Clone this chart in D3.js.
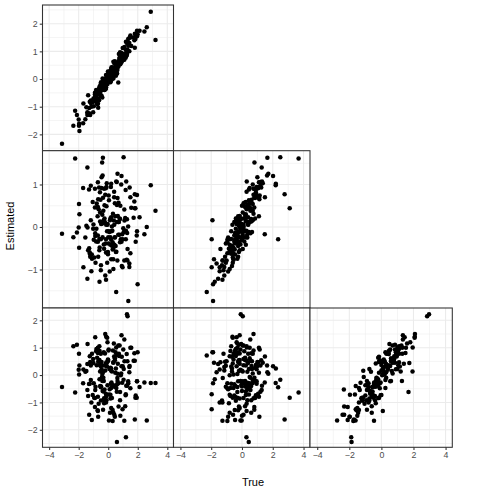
<!DOCTYPE html>
<html><head><meta charset="utf-8">
<script src="https://cdn.jsdelivr.net/npm/d3@7"></script>
<style>body{margin:0;background:#fff}svg{display:block}</style>
</head><body>
<svg id="chart" width="490" height="490"></svg>
<script>
// ---- data: one entry per simulated parameter set ----
const trueA=[
-3.13,-2.36,-2.24,-2.12,-2.00,-1.98,-1.95,-1.97,-1.70,-1.68,
3.20,2.88,2.61,2.45,2.12,1.95,1.99,1.80,1.84,1.72,
1.86,1.77,1.50,-0.36,1.04,-0.41,-1.41,-0.38,0.63,0.54,
1.36,0.54,-0.59,-1.14,-1.41,0.34,0.97,1.43,1.19,-0.30,
1.27,1.31,0.59,1.20,-0.14,-0.07,1.09,-0.60,-0.70,-0.80,
0.77,1.56,0.90,0.20,-0.50,0.40,-0.68,0.05,0.41,-1.29,
-1.11,1.09,-0.15,0.20,0.30,-0.70,0.20,-0.40,0.80,-0.25,
0.15,-0.55,0.70,-0.90,0.45,-1.00,0.25,-0.45,0.90,-0.20,
-1.18,-0.70,-0.56,-0.16,0.03,1.22,1.45,0.63,-1.36,-1.25,
-0.68,-0.86,-0.50,-0.49,1.30,1.50,1.43,1.80,1.93,1.95,
-0.12,0.45,-0.78,0.92,-0.33,0.10,-1.05,0.68,-0.25,0.32,
-0.60,1.15,-0.02,-1.30,0.55,-0.45,0.22,-0.88,0.80,-0.18,
0.05,-0.95,1.02,-0.38,0.38,-1.18,0.62,-0.65,0.15,1.28,
-0.52,0.28,-0.08,0.95,-1.48,0.48,-0.28,0.72,-0.72,0.00,
1.10,-0.15,-0.82,0.35,-0.42,0.60,-1.10,0.18,-0.30,0.85,
-0.62,0.42,-0.05,1.35,-0.98,0.12,-0.22,0.75,-1.55,0.25,
-0.35,0.52,-0.70,1.05,-0.10,-1.22,0.30,-0.48,0.88,-0.02,
-0.88,0.65,-0.20,0.40,-0.58,1.18,-0.05,-1.40,0.20,0.58,
-0.40,0.08,-0.75,0.98,-0.28,0.35,-1.02,0.70,-0.15,0.45,
-0.55,0.15,-0.90,1.25,-0.32,0.50,-0.12,-1.25,0.82,0.02];
const estA=[
-2.34,-1.69,-1.15,-1.30,-1.46,-1.69,-1.88,-1.62,-1.60,-0.88,
1.41,2.43,1.87,1.72,1.74,1.55,1.62,1.13,1.45,1.50,
1.60,1.40,1.57,-0.30,0.90,-0.35,-1.20,-0.40,0.60,0.50,
1.20,0.45,-0.55,-1.00,-1.30,0.35,0.90,1.30,1.05,-0.20,
0.88,1.30,0.37,1.35,-0.18,0.15,0.70,-0.43,-0.75,-0.59,
0.78,1.19,0.94,0.06,-0.17,0.22,-0.56,0.24,0.16,-1.05,
-0.82,0.83,0.15,-0.05,0.35,-0.88,0.35,-0.40,0.97,-0.35,
-0.12,-0.35,0.47,-0.50,0.32,-0.70,0.00,-0.28,0.75,0.01,
-0.87,-0.72,-0.25,-0.32,0.05,0.82,1.50,0.50,-0.59,-1.25,
-1.04,-0.68,-0.63,-0.12,1.07,1.50,1.00,1.64,1.56,1.74,
0.03,0.16,-0.56,0.63,-0.07,-0.03,-0.84,-0.13,-0.40,0.35,
-0.30,0.83,0.27,-1.28,0.57,-0.60,0.43,-0.80,0.90,-0.37,
-0.10,-0.75,0.70,0.02,0.22,-0.78,0.33,-0.46,-0.05,1.28,
-0.42,0.09,0.02,0.76,-1.02,0.20,-0.21,0.90,-0.90,0.05,
1.16,-0.14,-0.40,0.02,-0.33,0.20,-0.80,0.17,-0.08,0.63,
-0.77,0.55,-0.18,1.45,-0.98,0.28,-0.35,0.72,-1.45,0.34,
-0.34,0.12,-0.41,0.80,0.13,-1.30,0.42,-0.25,0.60,0.15,
-0.62,0.43,-0.05,0.15,-0.37,0.77,0.07,-1.23,0.34,0.47,
-0.67,0.25,-0.90,1.12,-0.23,0.62,-1.20,0.64,-0.30,0.64,
-0.52,-0.01,-0.56,0.93,-0.10,0.37,-0.21,-0.82,0.53,0.18];
const trueB=[
-0.30,0.30,3.68,-0.20,-0.10,0.70,0.25,-0.55,0.50,-1.45,
0.70,2.19,-0.10,1.48,0.40,0.95,-1.88,2.77,3.10,0.30,
-0.50,0.60,1.10,1.65,2.49,0.81,1.28,1.63,1.71,0.31,
-1.88,-2.29,-1.77,-1.45,-1.55,-1.82,-1.97,-1.65,-1.97,-1.92,
-0.08,0.05,0.44,0.29,-0.62,-0.60,0.54,-0.70,-0.30,-0.40,
0.10,0.50,2.02,2.20,2.35,1.49,1.13,-0.02,0.10,-0.58,
-0.45,-1.27,-1.27,-0.15,-0.47,0.30,0.00,0.20,-0.30,0.35,
-0.80,0.60,-0.20,0.80,-0.90,0.40,-0.65,1.00,-0.15,0.75,
1.20,1.10,0.90,1.05,1.15,1.30,1.00,0.85,-0.75,-0.80,
-1.10,-1.05,-1.20,-1.30,-1.00,-0.95,-1.15,0.55,-0.30,-0.25,
0.35,-0.22,0.10,-0.65,0.55,-0.90,0.25,0.05,-0.40,0.75,
-0.15,0.20,-0.55,0.45,-0.75,0.95,0.15,-0.35,0.60,-1.05,
0.45,-0.60,-0.10,0.00,-0.30,0.70,-1.25,0.30,0.85,-0.45,
0.62,-0.05,-0.70,0.35,-0.20,1.10,-0.85,0.40,-0.25,0.20,
0.65,-0.45,0.15,-1.40,0.50,-0.50,-0.30,0.95,-0.10,-0.80,
1.25,0.25,-0.35,0.05,-0.95,0.60,-0.15,-0.40,0.35,0.10,
0.80,-0.65,-0.50,0.45,1.35,-0.25,-0.95,0.00,0.70,-0.20,
0.55,-0.15,-1.15,0.30,-0.75,0.90,0.40,-0.05,-0.55,1.20,
-0.30,0.65,0.20,-0.35,0.75,-0.80,0.10,0.15,-0.60,0.50,
0.05,-0.15,0.85,-0.55,0.25,-0.25,1.05,-0.70,0.00,-0.45];
const estB=[
-0.16,-0.24,1.61,-0.13,-0.01,0.54,0.30,-0.49,0.92,-0.95,
0.38,0.98,0.00,-0.17,0.23,0.75,-1.35,0.77,0.44,0.22,
-0.35,0.60,0.70,1.63,1.64,1.52,1.40,1.21,1.25,1.07,
-1.74,-1.53,-1.29,-1.04,-1.22,-0.76,-0.95,-0.86,-0.29,0.16,
0.18,-0.52,0.52,-0.09,0.05,-0.84,0.41,-0.28,-0.35,-0.04,
0.20,0.45,1.20,1.02,-0.29,0.70,0.65,-0.10,0.05,-0.50,
-0.65,-0.79,-1.24,0.23,-0.53,0.47,-0.30,0.29,-0.36,0.51,
-0.42,0.13,0.12,0.46,-0.25,0.06,-0.44,1.17,-0.35,0.76,
0.97,1.05,0.82,0.91,0.74,1.07,0.93,0.68,-0.55,-0.60,
-0.70,-0.84,-1.02,-0.90,-0.79,-0.62,-0.94,0.44,-0.20,-0.10,
0.49,-0.24,0.55,-0.92,0.38,-1.05,0.59,-0.18,0.20,0.31,
-0.55,0.21,-0.64,0.88,-0.58,0.92,-0.10,-0.21,0.19,-0.39,
0.63,-0.72,-0.03,-0.24,0.15,0.16,-0.79,0.42,0.20,-0.14,
0.64,-0.09,-0.10,-0.17,0.03,0.25,-0.51,0.12,0.25,-0.24,
0.15,-0.29,-0.34,-0.52,0.12,0.12,-0.75,0.94,-0.41,-0.29,
0.93,-0.42,0.07,0.01,-0.30,0.16,0.11,-0.18,-0.25,0.01,
0.69,-0.59,-0.20,-0.12,1.03,-0.70,-0.36,0.07,1.00,-0.59,
-0.15,0.26,-1.14,0.83,-0.48,0.87,0.05,-0.01,-0.76,1.06,
0.08,-0.12,0.47,-0.29,0.90,-0.99,-0.04,0.57,-0.60,0.56,
0.34,-0.24,0.90,-0.77,0.13,-0.45,0.94,-0.63,0.50,-0.39];
const trueC=[
-0.55,1.10,-0.70,0.85,0.40,1.10,0.50,0.20,-0.45,0.10,
-0.35,-0.20,-2.76,-0.45,-0.80,-0.30,1.05,-1.71,-1.20,0.60,
-1.00,0.95,1.30,0.20,-0.30,-0.30,-0.90,0.40,0.10,1.95,
-0.40,0.90,-0.20,-1.40,0.30,0.70,-1.60,0.30,-0.55,0.90,
2.97,2.85,-1.86,-1.88,2.08,2.07,1.34,1.20,1.00,1.10,
0.69,1.53,0.40,0.10,-0.55,0.95,-1.98,-1.61,-2.42,-2.32,
-2.10,-0.46,-0.80,-1.50,-1.40,0.09,-1.13,1.28,1.69,-2.34,
-1.96,-1.60,-2.32,-2.10,-1.98,1.74,1.94,-0.16,1.34,2.09,
0.30,-0.50,0.00,-0.70,0.55,-0.20,0.35,-0.90,-0.40,0.80,
0.20,-0.35,0.45,-0.75,0.60,-0.10,0.15,0.75,-1.15,-0.35,
-0.40,0.65,1.05,-0.15,0.30,-0.85,0.00,1.25,-1.20,0.50,
0.70,-0.60,0.15,-0.25,-1.40,0.90,-0.05,1.45,-0.95,0.40,
-1.65,-0.50,0.85,-0.70,1.60,0.25,-0.30,-1.05,0.10,-0.45,
0.55,-0.90,1.15,-1.30,0.65,-0.15,-0.35,0.35,-1.55,0.75,
0.20,-0.60,0.45,1.10,-1.10,-0.25,1.30,-0.45,0.60,0.05,
-0.10,-0.55,1.80,0.55,-0.80,-1.45,0.30,0.95,-0.65,-0.20,
-0.90,0.40,1.50,-0.75,0.85,0.05,-1.75,-0.45,0.70,-0.05,
-1.35,1.40,0.00,-0.40,0.95,-0.05,-1.00,0.50,0.25,-0.65,
0.15,1.00,-0.20,0.30,-1.25,-0.60,0.80,-0.10,-0.35,0.60,
1.20,-0.75,-0.15,0.45,-0.55,0.25,0.70,-0.30,-1.50,0.90];
const estC=[
-0.44,1.05,-0.64,1.11,0.19,0.78,0.35,0.02,-0.30,0.20,
-0.29,-0.29,-1.66,-0.27,-0.44,-0.23,0.83,-1.62,-0.83,0.52,
-0.75,0.80,1.00,0.10,-0.17,-0.10,-0.55,0.35,0.05,1.01,
-0.30,0.71,-0.15,-1.00,0.40,0.45,-1.25,0.10,-0.70,0.83,
2.22,2.15,-2.45,-2.27,1.40,1.36,1.30,1.05,1.00,0.95,
1.08,1.00,0.32,0.24,-0.45,0.68,-1.52,-1.66,-1.45,-1.45,
-1.64,-1.67,-1.00,-1.20,-1.28,-1.31,0.16,-0.22,-0.62,-0.53,
-0.72,-0.40,-1.15,-1.17,-1.52,0.44,0.13,0.48,1.45,1.50,
0.35,-0.79,0.37,-0.68,0.93,-0.39,0.33,-0.22,-0.77,0.69,
0.49,-0.43,0.78,-0.93,0.50,-0.48,0.29,0.52,-0.83,-0.23,
-0.92,0.54,0.36,0.67,-0.10,-0.52,-0.73,1.08,-0.94,0.90,
0.55,-1.14,0.57,-0.33,-0.47,0.21,-0.27,1.38,-0.92,0.34,
-0.71,-0.83,0.93,-0.58,1.15,-0.18,-0.11,-1.05,0.27,-0.39,
0.33,-0.36,0.31,-0.28,0.15,0.08,-1.03,0.78,-1.29,0.55,
0.50,-0.79,0.87,0.47,-0.07,-0.34,0.78,-0.32,-0.22,-0.01,
0.54,-0.43,1.20,-0.23,-0.30,-1.38,0.79,0.70,0.12,-0.84,
-1.27,0.24,0.81,0.22,0.45,0.48,-1.68,-0.42,0.06,0.50,
-0.55,0.41,0.17,-0.38,0.88,-0.74,-0.37,1.13,-0.47,-0.61,
0.04,0.22,0.63,0.32,-0.85,-1.38,0.59,-0.30,0.42,0.61,
0.13,-0.86,-0.84,0.77,-0.60,0.83,0.47,-0.32,-1.49,0.90];

const xTickValues=[-4,-2,0,2,4];
const yTickValues=[[-2,-1,0,1,2],[-1,0,1],[-2,-1,0,1,2]];
const xLabel="True", yLabel="Estimated";

// ---- layout ----
const xDomain=[-4.45,4.42];
const yDomains=[[-2.59,2.675],[-1.906,1.795],[-2.64,2.45]];
const colPx=[[42.5,173.5],[173.5,310],[310,452.3]];
const rowPx=[[5,150.7],[150.7,308],[308,447.3]];
const trueArr=[trueA,trueB,trueC], estArr=[estA,estB,estC];
const font='"Liberation Sans", Arial, Helvetica, sans-serif';
const fmt=d3.format("d");

const svg=d3.select("#chart");
svg.append("rect").attr("width",490).attr("height",490).attr("fill","#fff");

function minorOf(ticks,dom){
  const step=ticks[1]-ticks[0];
  const out=[];
  for(let v=ticks[0]-step/2; v<=ticks[ticks.length-1]+step/2+1e-9; v+=step){
    if(v>=dom[0]&&v<=dom[1]) out.push(v);
  }
  return out;
}

const xScales=colPx.map(p=>d3.scaleLinear().domain(xDomain).range(p));
const yScales=rowPx.map((p,i)=>d3.scaleLinear().domain(yDomains[i]).range([p[1],p[0]]));

const defs=svg.append("defs");
for(let r=0;r<3;r++){
  for(let c=0;c<=r;c++){
    const xs=xScales[c], ys=yScales[r];
    const [x0,x1]=colPx[c],[y0,y1]=rowPx[r];
    const g=svg.append("g");
    const cid=`clip${r}${c}`;
    defs.append("clipPath").attr("id",cid).append("rect")
      .attr("x",x0).attr("y",y0).attr("width",x1-x0).attr("height",y1-y0);
    g.append("rect").attr("x",x0).attr("y",y0).attr("width",x1-x0).attr("height",y1-y0).attr("fill","#fff");
    const gg=g.append("g").attr("clip-path",`url(#${cid})`);
    minorOf(xTickValues,xDomain).forEach(v=>gg.append("line")
      .attr("x1",xs(v)).attr("x2",xs(v)).attr("y1",y0).attr("y2",y1)
      .attr("stroke","#EBEBEB").attr("stroke-width",0.55));
    minorOf(yTickValues[r],yDomains[r]).forEach(v=>gg.append("line")
      .attr("y1",ys(v)).attr("y2",ys(v)).attr("x1",x0).attr("x2",x1)
      .attr("stroke","#EBEBEB").attr("stroke-width",0.55));
    xTickValues.forEach(v=>gg.append("line")
      .attr("x1",xs(v)).attr("x2",xs(v)).attr("y1",y0).attr("y2",y1)
      .attr("stroke","#EBEBEB").attr("stroke-width",1.07));
    yTickValues[r].forEach(v=>gg.append("line")
      .attr("y1",ys(v)).attr("y2",ys(v)).attr("x1",x0).attr("x2",x1)
      .attr("stroke","#EBEBEB").attr("stroke-width",1.07));
    const tx=trueArr[c], ey=estArr[r];
    gg.selectAll("circle").data(d3.range(tx.length)).join("circle")
      .attr("cx",i=>xs(tx[i])).attr("cy",i=>ys(ey[i])).attr("r",2.25).attr("fill","#000");
    g.append("rect").attr("x",x0).attr("y",y0).attr("width",x1-x0).attr("height",y1-y0)
      .attr("fill","none").attr("stroke","#333333").attr("stroke-width",1.07);
  }
}

function styleAxis(sel){
  sel.select(".domain").remove();
  sel.selectAll(".tick line").attr("stroke","#333333").attr("stroke-width",1.07);
  sel.selectAll(".tick text").attr("fill","#4D4D4D").attr("font-size","8.8px").attr("font-family",font);
}
for(let r=0;r<3;r++){
  const ax=svg.append("g").attr("transform",`translate(${colPx[0][0]},0)`)
    .call(d3.axisLeft(yScales[r]).tickValues(yTickValues[r]).tickFormat(fmt).tickSize(2.75).tickPadding(2.2));
  styleAxis(ax);
}
for(let c=0;c<3;c++){
  const ax=svg.append("g").attr("transform",`translate(0,${rowPx[2][1]})`)
    .call(d3.axisBottom(xScales[c]).tickValues(xTickValues).tickFormat(fmt).tickSize(2.75).tickPadding(2.2));
  styleAxis(ax);
}
svg.append("text").attr("x",253).attr("y",486).attr("text-anchor","middle")
  .attr("font-family",font).attr("font-size","11px").attr("fill","#000").text(xLabel);
svg.append("text").attr("transform","translate(14,226) rotate(-90)").attr("text-anchor","middle")
  .attr("font-family",font).attr("font-size","11px").attr("fill","#000").text(yLabel);
</script>
</body></html>
